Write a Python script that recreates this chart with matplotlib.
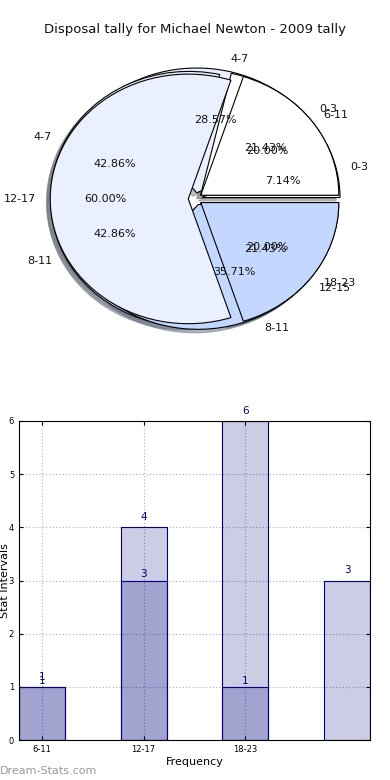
import matplotlib
matplotlib.use("Agg")
import matplotlib.pyplot as plt

# pie data (three tallies drawn on top of each other)
pie1_labels = ["0-3", "4-7", "8-11", "12-15"]
pie1_values = [1, 4, 6, 3]
pie2_labels = ["0-3", "4-7", "8-11"]
pie2_values = [3, 6, 5]
pie3_labels = ["6-11", "12-17", "18-23"]
pie3_values = [1, 3, 1]

# bar data
bar_ticks = ["6-11", "12-17", "18-23"]
bars_back = [1, 4, 6, 3]
bars_front = [1, 3, 1]

pie_colors = ["#FFFFFF", "#EAF0FE", "#C4D8FF", "#9DBBF5"]
bar_color = "navy"
bar_fill = (0, 0, 0.5, 0.2)

fig = plt.figure(figsize=(3.9, 7.8), dpi=100)

fig.text(0.5, 1 - 30 / 780, "Disposal tally for Michael Newton - 2009 tally",
         ha="center", va="center", fontsize=9.5, color="#111111")

ax1 = fig.add_axes([0.058, 0.545, 0.885, 0.40])
for labels, values in [(pie1_labels, pie1_values), (pie2_labels, pie2_values), (pie3_labels, pie3_values)]:
    ax1.pie(values, labels=labels, colors=pie_colors[:len(values)],
            explode=[0.05] * len(values), autopct="%1.2f%%", pctdistance=0.6,
            labeldistance=1.1, shadow={"ox": -0.02, "oy": -0.02, "shade": 0.5},
            wedgeprops={"edgecolor": "black", "linewidth": 0.8},
            textprops={"fontsize": 8, "color": "#111111"})
ax1.set_aspect("auto")
ax1.set_xlim(-1.25, 1.25)
ax1.set_ylim(-1.25, 1.25)

ax2 = fig.add_axes([19 / 390, 1 - 740 / 780, 351 / 390, 319 / 780])
width = 0.45
xb = range(len(bars_back))
xf = range(len(bars_front))
ax2.bar(xb, bars_back, width, color=bar_fill, edgecolor=bar_color, linewidth=0.8)
ax2.bar(xf, bars_front, width, color=bar_fill, edgecolor=bar_color, linewidth=0.8)
for x, v in zip(xb, bars_back):
    ax2.text(x, v + 0.1, str(v), ha="center", va="bottom", fontsize=7.5, color=bar_color)
for x, v in zip(xf, bars_front):
    ax2.text(x, v + 0.02, str(v), ha="center", va="bottom", fontsize=7.5, color=bar_color)

ax2.set_xlim(-width / 2, len(bars_back) - 1 + width / 2)
ax2.set_ylim(0, 6)
ax2.set_xticks(range(len(bar_ticks)))
ax2.set_xticklabels(bar_ticks)
ax2.set_yticks(range(7))
ax2.tick_params(labelsize=6, direction="in", top=True, right=True, length=3)
ax2.grid(True, linestyle=(0, (1, 2)), color="#aaaaaa", linewidth=0.8)
ax2.set_axisbelow(True)
ax2.set_xlabel("Frequency", fontsize=8, labelpad=2)
ax2.set_ylabel("Stat Intervals", fontsize=8)
ax2.yaxis.set_label_coords(-0.025, 0.5)

fig.text(0.0, 1 - 771 / 780, "Dream-Stats.com", ha="left", va="center",
         fontsize=8, color="#999999")

fig.savefig("out.png", dpi=100)
